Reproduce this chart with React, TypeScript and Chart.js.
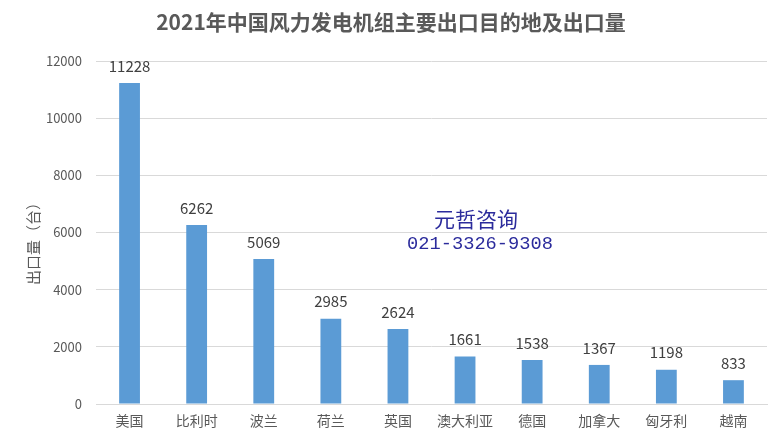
import React, { useEffect, useRef } from "react";
import { Chart, registerables } from "chart.js";

Chart.register(...registerables);

const categories = ["美国", "比利时", "波兰", "荷兰", "英国", "澳大利亚", "德国", "加拿大", "匈牙利", "越南"];
const exports2021 = [11228, 6262, 5069, 2985, 2624, 1661, 1538, 1367, 1198, 833];
const titleText = "2021年中国风力发电机组主要出口目的地及出口量";
const yAxisTitle = "出口量（台）";
const watermark = ["元哲咨询", "021-3326-9308"];

const CJK = '"Noto Sans CJK SC", "Noto Sans", sans-serif';

export default function App() {
  const ref = useRef<HTMLCanvasElement | null>(null);
  useEffect(() => {
    document.body.style.margin = "0";
    const canvas = ref.current;
    if (!canvas) return;
    const extras = {
      id: "extras",
      afterDraw(chart: any) {
        const ctx = chart.ctx;
        ctx.save();
        // title
        ctx.fillStyle = "#595959";
        ctx.font = `bold 21px ${CJK}`;
        ctx.textAlign = "center";
        ctx.textBaseline = "middle";
        ctx.fillText(titleText, 391, 22);
        // y title
        ctx.save();
        ctx.translate(33, 240);
        ctx.rotate(-Math.PI / 2);
        ctx.font = `15px ${CJK}`;
        ctx.fillStyle = "#595959";
        ctx.fillText(yAxisTitle, 0, 0);
        ctx.restore();
        // data labels
        const meta = chart.getDatasetMeta(0);
        ctx.font = `15px ${CJK}`;
        ctx.fillStyle = "#404040";
        ctx.textBaseline = "middle";
        meta.data.forEach((bar: any, i: number) => {
          ctx.fillText(String(exports2021[i]), bar.x, bar.y - 17);
        });
        // watermark
        ctx.fillStyle = "#2b2b9c";
        ctx.font = `21px ${CJK}`;
        ctx.fillText(watermark[0], 476, 219);
        ctx.font = `18.7px "Liberation Mono", "DejaVu Sans Mono", monospace`;
        ctx.fillText(watermark[1], 480, 244);
        ctx.restore();
      },
    };
    const chart = new Chart(canvas, {
      type: "bar",
      data: {
        labels: categories,
        datasets: [
          {
            data: exports2021,
            backgroundColor: "#5b9bd5",
            categoryPercentage: 1,
            barPercentage: 0.31,
          },
        ],
      },
      options: {
        animation: false,
        responsive: false,
        layout: { padding: { top: 61, right: 15, bottom: 0, left: 0 } },
        plugins: { legend: { display: false }, tooltip: { enabled: false }, title: { display: false } },
        scales: {
          x: {
            grid: { display: false, drawTicks: false },
            border: { color: "#d9d9d9" },
            ticks: { color: "#595959", font: { size: 14, family: CJK }, padding: 8 },
            afterFit(scale: any) {
              scale.height = 39;
            },
          },
          y: {
            min: 0,
            max: 12000,
            ticks: {
              stepSize: 2000,
              color: "#595959",
              font: { size: 13, family: CJK },
              padding: 14,
              callback: (v: any) => String(v),
            },
            grid: { color: "#d9d9d9", drawTicks: false },
            border: { display: false },
            afterFit(scale: any) {
              scale.width = 96;
            },
          },
        },
      },
      plugins: [extras],
    } as any);
    return () => chart.destroy();
  }, []);
  return <canvas ref={ref} width={782} height={443} style={{ display: "block" }} />;
}
